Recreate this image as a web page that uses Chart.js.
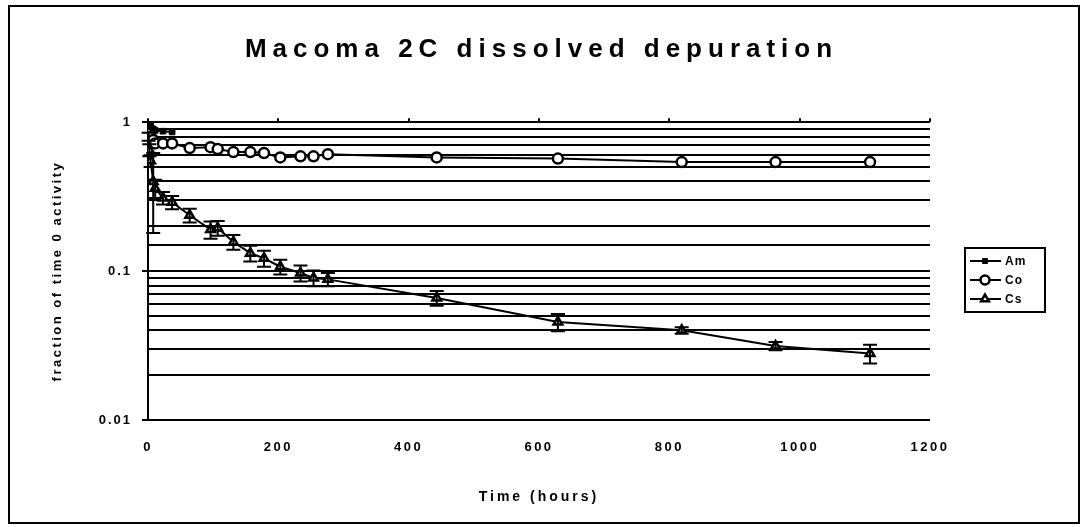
<!DOCTYPE html>
<html>
<head>
<meta charset="utf-8">
<script src="https://cdn.jsdelivr.net/npm/chart.js@4/dist/chart.umd.min.js"></script>
<style>
  html, body { margin: 0; padding: 0; background: #fff; }
  canvas { display: block; }
</style>
</head>
<body>
<canvas id="c" width="1083" height="527"></canvas>
<script>
// ---- data ----
const times  = [0, 1, 2, 4, 8, 11, 23, 37, 64, 96, 107, 131, 157, 178, 203, 234, 254, 276, 443, 629, 819, 963, 1108];
const amVals = [1.0, 0.97, 0.95, 0.93, 0.9, 0.88, 0.87, 0.86, null, null, null, null, null, null, null, null, null, null, null, null, null, null, null];
const coVals = [1.0, 0.92, 0.85, 0.8, 0.76, 0.72, 0.72, 0.72, 0.67, 0.68, 0.66, 0.63, 0.63, 0.62, 0.58, 0.59, 0.59, 0.61, 0.58, 0.57, 0.54, 0.54, 0.54];
const csVals = [1.0, 0.8, 0.65, 0.55, 0.4, 0.36, 0.31, 0.29, 0.237, 0.19, 0.195, 0.157, 0.132, 0.122, 0.107, 0.097, 0.090, 0.088, 0.066, 0.0455, 0.040, 0.0314, 0.028];
const csErr  = [0, 0.05, 0.06, 0.05, 0.22, 0.05, 0.03, 0.03, 0.025, 0.025, 0.022, 0.018, 0.016, 0.015, 0.012, 0.012, 0.011, 0.009, 0.0075, 0.006, 0.002, 0.002, 0.004];
const seriesNames = ['Am', 'Co', 'Cs'];
const xTicks = [0, 200, 400, 600, 800, 1000, 1200];
const yMajorTicks = [0.01, 0.1, 1];
const titleText = 'Macoma 2C dissolved depuration';
const xTitle = 'Time (hours)';
const yTitle = 'fraction of time 0 activity';

const FONT = "'Liberation Sans', Arial, sans-serif";
const isMajor = v => yMajorTicks.some(m => Math.abs(m - v) / m < 1e-6);
const toPts = vals => times.map((t, i) => ({x: t, y: vals[i]})).filter(p => p.y !== null);

// letter spacing helper: wraps a draw method of an element
function spaced(obj, name, spacing) {
  if (!obj || obj['__w_' + name]) return;
  const orig = obj[name];
  obj[name] = function(...args) {
    const ctx = this.ctx || (this.chart && this.chart.ctx);
    ctx.save();
    ctx.letterSpacing = spacing;
    const r = orig.apply(this, args);
    ctx.restore();
    return r;
  };
  obj['__w_' + name] = true;
}

const spacingPlugin = {
  id: 'spacing',
  beforeDraw(chart) {
    spaced(chart.titleBlock, 'draw', '6px');
    const x = chart.scales.x, y = chart.scales.y;
    spaced(x, 'drawLabels', '2.5px');
    spaced(x, 'drawTitle', '3px');
    spaced(y, 'drawLabels', '2px');
    spaced(y, 'drawTitle', '2.5px');
  }
};

const errorBars = {
  id: 'errorBars',
  afterDatasetsDraw(chart) {
    const ctx = chart.ctx, xs = chart.scales.x, ys = chart.scales.y;
    ctx.save();
    ctx.strokeStyle = '#000';
    ctx.lineWidth = 2;
    times.forEach((t, i) => {
      const e = csErr[i];
      if (!e) return;
      const v = csVals[i];
      const px = xs.getPixelForValue(t);
      const hi = ys.getPixelForValue(v + e);
      const lo = ys.getPixelForValue(Math.max(v - e, 0.0101));
      ctx.beginPath();
      ctx.moveTo(px, hi); ctx.lineTo(px, lo);
      ctx.moveTo(px - 7, hi); ctx.lineTo(px + 7, hi);
      ctx.moveTo(px - 7, lo); ctx.lineTo(px + 7, lo);
      ctx.stroke();
    });
    ctx.restore();
  }
};

const frameAndLegend = {
  id: 'frameAndLegend',
  afterDraw(chart) {
    const ctx = chart.ctx;
    ctx.save();
    ctx.strokeStyle = '#000';
    ctx.lineWidth = 2;
    ctx.strokeRect(9, 6, 1070, 517);
    // legend box
    const lx = 965, ly = 248, lw = 80, lh = 64;
    ctx.strokeRect(lx, ly, lw, lh);
    chart.data.datasets.forEach((ds, i) => {
      const yy = ly + 13 + i * 19;
      ctx.strokeStyle = '#000';
      ctx.lineWidth = 2;
      ctx.beginPath();
      ctx.moveTo(lx + 5, yy); ctx.lineTo(lx + 36, yy);
      ctx.stroke();
      ctx.fillStyle = ds.pointBackgroundColor;
      ctx.strokeStyle = ds.pointBorderColor;
      ctx.lineWidth = ds.pointBorderWidth;
      Chart.helpers.drawPoint(ctx, {pointStyle: ds.pointStyle, radius: ds.pointRadius - 0.5, borderWidth: ds.pointBorderWidth, rotation: 0}, lx + 20, yy);
      ctx.fillStyle = '#000';
      ctx.font = 'bold 12px ' + FONT;
      ctx.letterSpacing = '1px';
      ctx.textBaseline = 'middle';
      ctx.textAlign = 'left';
      ctx.fillText(ds.label, lx + 40, yy + 1);
    });
    ctx.restore();
  }
};

const common = {borderColor: '#000', borderWidth: 2, pointBorderColor: '#000', tension: 0, fill: false};

new Chart(document.getElementById('c'), {
  type: 'line',
  data: {
    datasets: [
      Object.assign({}, common, {label: seriesNames[0], data: toPts(amVals), pointStyle: 'rect', pointRadius: 4, pointBackgroundColor: '#000', pointBorderWidth: 1}),
      Object.assign({}, common, {label: seriesNames[1], data: toPts(coVals), pointStyle: 'circle', pointRadius: 5, pointBackgroundColor: '#fff', pointBorderWidth: 2.5}),
      Object.assign({}, common, {label: seriesNames[2], data: toPts(csVals), pointStyle: 'triangle', pointRadius: 5, pointBackgroundColor: '#fff', pointBorderWidth: 2.5})
    ]
  },
  options: {
    responsive: false,
    animation: false,
    devicePixelRatio: 1,
    layout: {padding: 0},
    plugins: {
      legend: {display: false},
      tooltip: {enabled: false},
      title: {
        display: true, text: titleText, color: '#000',
        font: {family: FONT, size: 26, weight: 'bold'},
        padding: {top: 34, bottom: 57}
      }
    },
    scales: {
      x: {
        type: 'linear', position: 'bottom', min: 0, max: 1200,
        afterBuildTicks: s => { s.ticks = xTicks.map(v => ({value: v})); },
        afterFit: s => { s.height = 107; },
        grid: {display: false, drawTicks: false},
        border: {display: false},
        ticks: {color: '#000', font: {family: FONT, size: 13, weight: 'bold'}, padding: 20, callback: v => String(v), maxRotation: 0},
        title: {display: true, text: xTitle, color: '#000', font: {family: FONT, size: 14, weight: 'bold'}, padding: {top: 0, bottom: 21}}
      },
      x2: {
        type: 'linear', position: 'top', min: 0, max: 1200,
        afterBuildTicks: s => { s.ticks = xTicks.map(v => ({value: v})); },
        afterFit: s => { s.height = 0; },
        grid: {drawOnChartArea: false, tickLength: 4, color: '#000', lineWidth: 2},
        border: {display: false},
        ticks: {display: false}
      },
      y: {
        type: 'logarithmic', position: 'left', min: 0.01, max: 1,
        afterFit: s => { s.width = 148; },
        grid: {
          color: '#000', lineWidth: 2, tickLength: 6, tickWidth: 2,
          tickColor: c => (c.tick && isMajor(c.tick.value)) ? '#000' : 'rgba(0,0,0,0)'
        },
        border: {display: true, color: '#000', width: 2},
        ticks: {
          color: '#000', autoSkip: false, padding: 10,
          font: {family: FONT, size: 13, weight: 'bold'},
          callback: v => isMajor(v) ? String(v) : ''
        },
        title: {display: true, text: yTitle, color: '#000', font: {family: FONT, size: 13, weight: 'bold'}, padding: {top: 50, bottom: 0}}
      },
      yR: {
        type: 'linear', position: 'right', min: 0, max: 1,
        afterFit: s => { s.width = 153; },
        grid: {display: false, drawTicks: false},
        border: {display: false},
        ticks: {display: false}
      }
    }
  },
  plugins: [spacingPlugin, errorBars, frameAndLegend]
});
</script>
</body>
</html>
